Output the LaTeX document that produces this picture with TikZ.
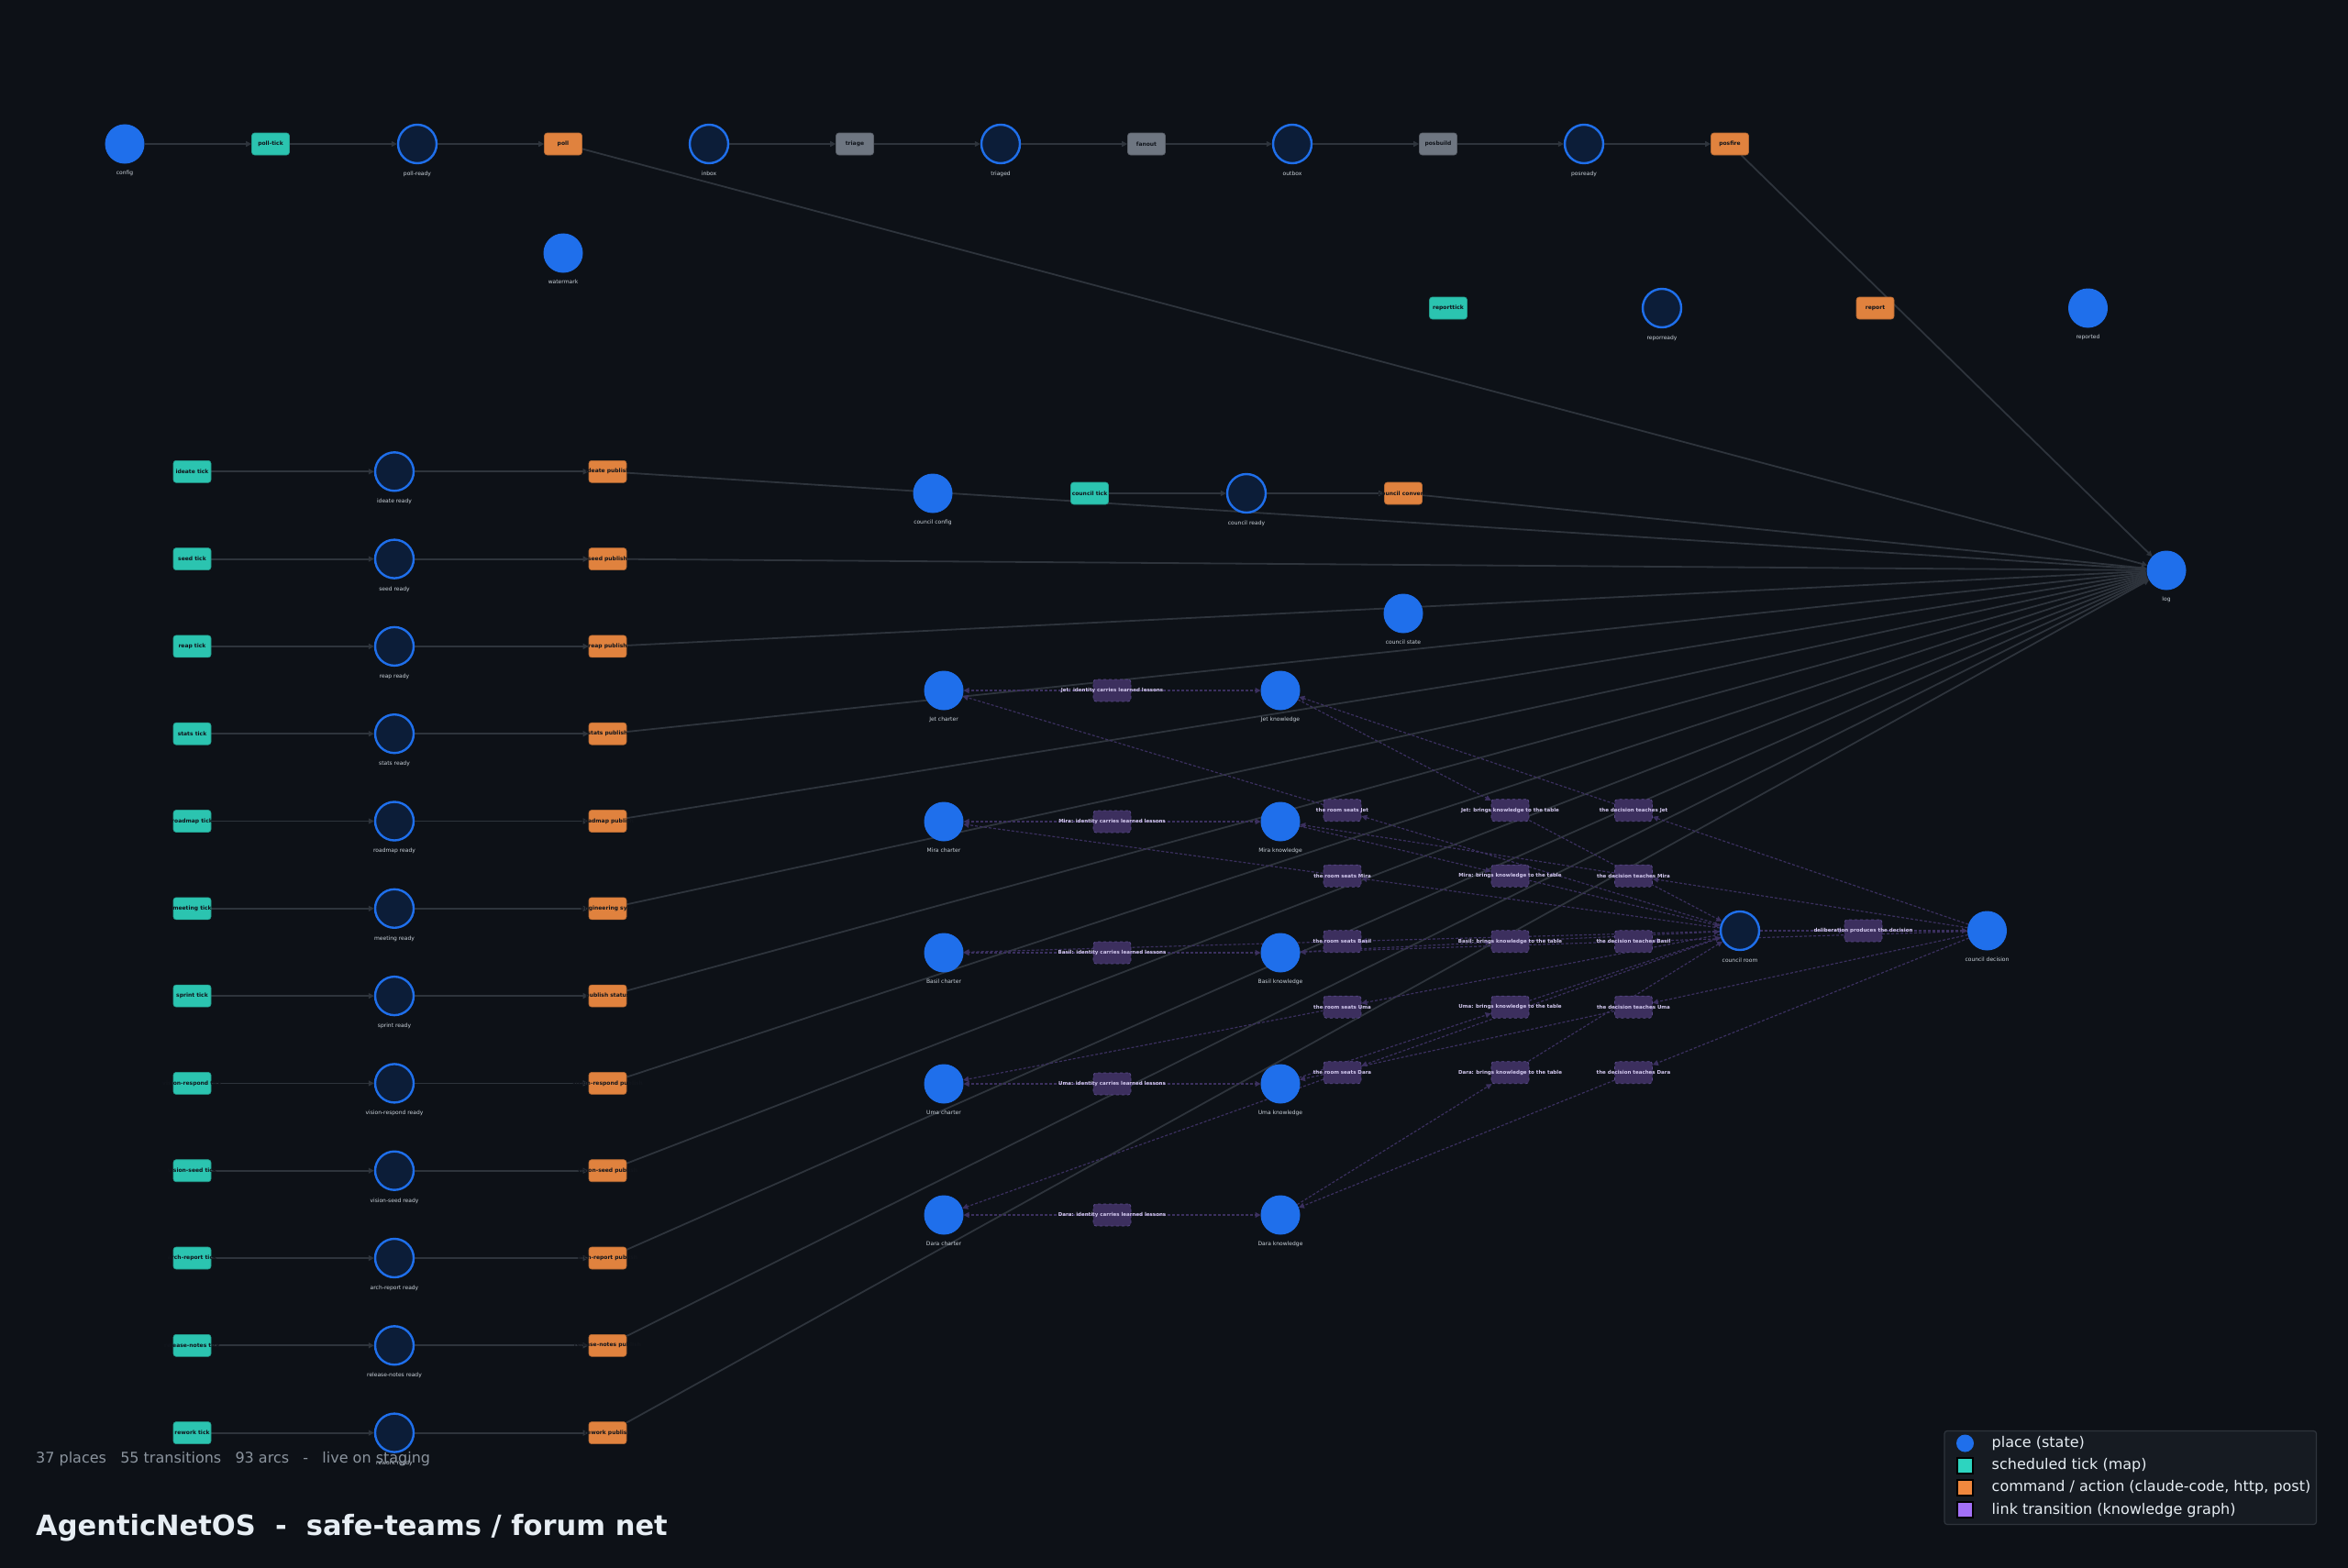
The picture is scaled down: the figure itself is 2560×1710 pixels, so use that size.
\documentclass[tikz,border=0pt]{standalone}
\usepackage{fontspec}
\setmainfont{DejaVu Sans}
\usetikzlibrary{arrows.meta, positioning}

\definecolor{fnbg}{HTML}{0D1117}
\definecolor{fnblue}{HTML}{1F6FEB}
\definecolor{fnhold}{HTML}{0C1D38}
\definecolor{fnlbl}{HTML}{C9D1D9}
\definecolor{fnink}{HTML}{11151C}
\definecolor{fntick}{HTML}{2BC4B0}
\definecolor{fncmd}{HTML}{E0823E}
\definecolor{fngray}{HTML}{6E7681}
\definecolor{fnlink}{HTML}{3C2F5E}
\definecolor{fnlinkedge}{HTML}{5A4A8A}
\definecolor{fnlinktxt}{HTML}{D2C8EE}
\definecolor{fnedge}{HTML}{2E343C}
\definecolor{fnlinkarc}{HTML}{3B305F}
\definecolor{fnmuted}{HTML}{8B949E}
\definecolor{fntitle}{HTML}{E6EDF3}
\definecolor{fnpanel}{HTML}{161B22}
\definecolor{fnteal}{HTML}{2DD4BF}
\definecolor{fnorange}{HTML}{F0883E}
\definecolor{fnpurple}{HTML}{A371F7}

\newcommand{\fnclip}[1]{\makebox[0pt]{#1}}

\pgfdeclarelayer{fnback}
\pgfdeclarelayer{fnedges}
\pgfsetlayers{fnback,fnedges,main}

\tikzset{
  >={Triangle[length=6pt,width=6pt]},
  fn place/.style={circle, minimum size=42pt, inner sep=0pt, fill=fnblue,
    draw=fnblue, line width=1pt},
  fn hold/.style={fn place, fill=fnhold, line width=2.4pt},
  fn lbl/.style={font=\fontsize{6}{7}\selectfont, text=fnlbl, inner sep=0.5pt},
  fn trans/.style={rectangle, rounded corners=3pt, minimum width=41pt,
    minimum height=24pt, inner sep=0pt, text=fnink,
    font=\fontsize{6}{7}\selectfont\bfseries, line width=0.6pt},
  fn tick/.style={fn trans, fill=fntick, draw=fntick!80!black},
  fn cmd/.style={fn trans, fill=fncmd, draw=fncmd!80!black},
  fn gray/.style={fn trans, fill=fngray, draw=fngray!80!black},
  fn link/.style={fn trans, fill=fnlink, draw=fnlinkedge, dashed, line width=0.8pt,
    text=fnlinktxt, font=\fontsize{5.5}{6.5}\selectfont\bfseries},
  fn arc/.style={draw=fnedge, ->, line width=1.8pt},
  fn lnk/.style={draw=fnlinkarc, -{Triangle[length=6pt,width=6pt]}, line width=1.2pt,
    dash pattern=on 3pt off 2pt},
  fn key/.style={anchor=west, inner sep=0pt, text=fntitle, font=\fontsize{16}{19}\selectfont},
}

\begin{document}
\begin{tikzpicture}[x=1pt, y=-1pt, every label/.style={fn lbl}, label distance=7pt]
 \useasboundingbox (0,0) rectangle (2560,1710);
 \begin{pgfonlayer}{fnback}
  \fill[fnbg] (0,0) rectangle (2560,1710);
 \end{pgfonlayer}

 % poller / poster chain
 \node[fn place, label=below:config] (config) at (136,157) {};
 \node[fn tick] (polltick) at (295,157) {\fnclip{poll-tick}};
 \node[fn hold, label=below:poll-ready] (pollready) at (455,157) {};
 \node[fn cmd] (poll) at (614,157) {\fnclip{poll}};
 \node[fn hold, label=below:inbox] (inbox) at (773,157) {};
 \node[fn gray] (triage) at (932,157) {\fnclip{triage}};
 \node[fn hold, label=below:triaged] (triaged) at (1091,157) {};
 \node[fn gray] (fanout) at (1250,157) {\fnclip{fanout}};
 \node[fn hold, label=below:outbox] (outbox) at (1409,157) {};
 \node[fn gray] (posbuild) at (1568,157) {\fnclip{posbuild}};
 \node[fn hold, label=below:posready] (posready) at (1727,157) {};
 \node[fn cmd] (posfire) at (1886,157) {\fnclip{posfire}};
 \node[fn place, label=below:watermark] (watermark) at (614,276) {};

 \node[fn tick] (reporttick) at (1579,336) {\fnclip{reporttick}};
 \node[fn hold, label=below:reporready] (reporready) at (1812,336) {};
 \node[fn cmd] (report) at (2044.5,336) {\fnclip{report}};
 \node[fn place, label=below:reported] (reported) at (2276.5,336) {};
 \node[fn place, label=below:log] (log) at (2362,622) {};

 % scheduled rows
 \foreach \nm/\pub [count=\k from 0] in {ideate/ideate publish, seed/seed publish,
   reap/reap publish, stats/stats publish, roadmap/roadmap publish,
   meeting/engineering sync, sprint/publish status,
   vision-respond/vision-respond publish, vision-seed/vision-seed publish,
   arch-report/arch-report publish, release-notes/release-notes publish,
   rework/rework publish} {
  \pgfmathsetmacro\yy{514.3+95.3*\k}
  \node[fn tick] (tk\k) at (209.5,\yy) {\fnclip{\nm\ tick}};
  \node[fn hold, label=below:\nm\ ready] (rd\k) at (430,\yy) {};
  \node[fn cmd] (pb\k) at (662.5,\yy) {\fnclip{\pub}};
 }

 % council
 \node[fn place, label=below:council config] (cconfig) at (1017,538) {};
 \node[fn tick] (ctick) at (1188,538) {\fnclip{council tick}};
 \node[fn hold, label=below:council ready] (cready) at (1359,538) {};
 \node[fn cmd] (cconvene) at (1530,538) {\fnclip{council convene}};
 \node[fn place, label=below:council state] (cstate) at (1530,669) {};
 \node[fn hold, label=below:council room] (room) at (1897,1015) {};
 \node[fn link] (delib) at (2031.5,1015) {\fnclip{deliberation produces the decision}};
 \node[fn place, label=below:council decision] (dec) at (2166.5,1015) {};

 \foreach \a [count=\k from 0] in {Jet,Mira,Basil,Uma,Dara} {
  \pgfmathsetmacro\yy{753+143*\k}
  \pgfmathsetmacro\yl{883.7+71.5*\k}
  \node[fn place, label=below:\a\ charter] (ch\a) at (1029,\yy) {};
  \node[fn place, label=below:\a\ knowledge] (kn\a) at (1396,\yy) {};
  \node[fn link] (id\a) at (1212.5,\yy) {\fnclip{\a: identity carries learned lessons}};
  \node[fn link] (se\a) at (1463.5,\yl) {\fnclip{the room seats \a}};
  \node[fn link] (br\a) at (1646.5,\yl) {\fnclip{\a: brings knowledge to the table}};
  \node[fn link] (te\a) at (1781,\yl) {\fnclip{the decision teaches \a}};
 }

 \begin{pgfonlayer}{fnedges}
  \draw[fn arc] (config) -- (polltick);
  \draw[fn arc] (polltick) -- (pollready);
  \draw[fn arc] (pollready) -- (poll);
  \draw[fn arc] (poll) -- (log);
  \draw[fn arc] (inbox) -- (triage);
  \draw[fn arc] (triage) -- (triaged);
  \draw[fn arc] (triaged) -- (fanout);
  \draw[fn arc] (fanout) -- (outbox);
  \draw[fn arc] (outbox) -- (posbuild);
  \draw[fn arc] (posbuild) -- (posready);
  \draw[fn arc] (posready) -- (posfire);
  \draw[fn arc] (posfire) -- (log);
  \foreach \k in {0,...,11} {
   \draw[fn arc] (tk\k) -- (rd\k);
   \draw[fn arc] (rd\k) -- (pb\k);
   \draw[fn arc] (pb\k) -- (log);
  }
  \draw[fn arc] (ctick) -- (cready);
  \draw[fn arc] (cready) -- (cconvene);
  \draw[fn arc] (cconvene) -- (log);
  % knowledge-graph links
  \foreach \a in {Jet,Mira,Basil,Uma,Dara} {
   \draw[fn lnk] (id\a) -- (ch\a);
   \draw[fn lnk] (id\a) -- (kn\a);
   \draw[fn lnk] (room) -- (se\a);
   \draw[fn lnk] (se\a) -- (ch\a);
   \draw[fn lnk] (kn\a) -- (br\a);
   \draw[fn lnk] (br\a) -- (room);
   \draw[fn lnk] (dec) -- (te\a);
   \draw[fn lnk] (te\a) -- (kn\a);
  }
  \draw[fn lnk] (room) -- (delib);
  \draw[fn lnk] (delib) -- (dec);
 \end{pgfonlayer}

 % footer
 \node[anchor=west, inner sep=0pt, text=fnmuted, font=\fontsize{16}{19}\selectfont]
   (stats) at (39,1591) {37 places\ \ \ 55 transitions\ \ \ 93 arcs\ \ \ -\ \ \ live on staging};
 \node[anchor=west, inner sep=0pt, text=fntitle, font=\fontsize{30.5}{36}\selectfont\bfseries]
   (title) at (39,1666) {AgenticNetOS\ \ -\ \ safe-teams / forum net};

 % legend
 \draw[fill=fnpanel, draw=fnedge, line width=1.2pt, rounded corners=3pt]
   (2120,1560.5) rectangle (2525.5,1662.5);
 \node[circle, fill=fnblue, minimum size=19pt, inner sep=0pt] (kplace) at (2142.5,1574) {};
 \node[fill=fnteal, draw=black, line width=1.5pt, minimum size=17pt, inner sep=0pt] (ktick) at (2142.5,1598.3) {};
 \node[fill=fnorange, draw=black, line width=1.5pt, minimum size=17pt, inner sep=0pt] (kcmd) at (2142.5,1622.3) {};
 \node[fill=fnpurple, draw=black, line width=1.5pt, minimum size=17pt, inner sep=0pt] (klink) at (2142.5,1646.7) {};
 \node[fn key] at (2171.5,1574) {place (state)};
 \node[fn key] at (2171.5,1598.3) {scheduled tick (map)};
 \node[fn key] at (2171.5,1622.3) {command / action (claude-code, http, post)};
 \node[fn key] at (2171.5,1646.7) {link transition (knowledge graph)};
\end{tikzpicture}
\end{document}
